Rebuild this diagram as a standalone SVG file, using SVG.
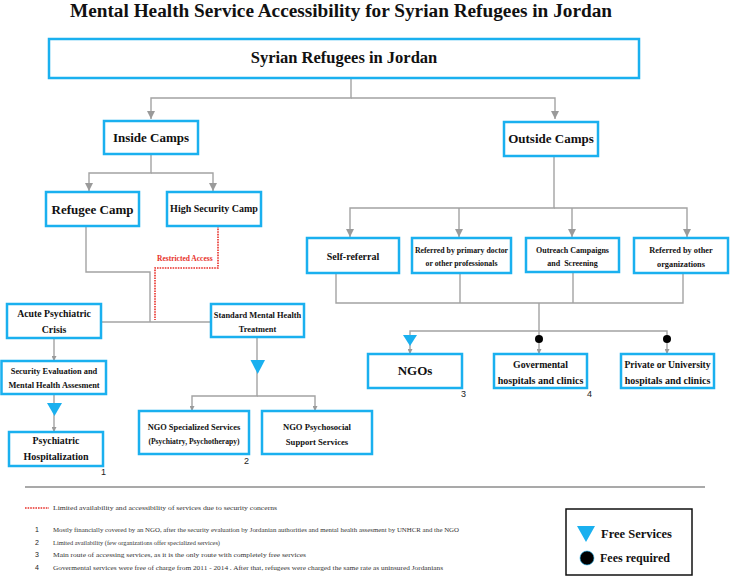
<svg xmlns="http://www.w3.org/2000/svg" width="730" height="577" viewBox="0 0 730 577">
<defs>
<style>
.box{fill:#fff;stroke:#1ab0ef;stroke-width:2.5}
.t{font-family:"Liberation Serif","Times New Roman",serif;font-weight:bold;fill:#111;text-anchor:middle}
.c{fill:none;stroke:#a3a3a3;stroke-width:1.4}
.red{fill:none;stroke:#e8302a;stroke-width:1.6;stroke-dasharray:1.6 1}
.num{font-family:"Liberation Sans",Arial,sans-serif;fill:#222}
.fn{font-family:"Liberation Serif","Times New Roman",serif;font-size:7px;fill:#333}
.tri{fill:#1ab0ef}
</style>
<marker id="a" markerUnits="userSpaceOnUse" markerWidth="8" markerHeight="10" refX="10" refY="5" viewBox="0 0 10 10" orient="auto">
<path d="M0,0 L10,5 L0,10 z" fill="#9a9a9a"/>
</marker>
<marker id="s" markerUnits="userSpaceOnUse" markerWidth="5" markerHeight="5" refX="10" refY="5" viewBox="0 0 10 10" orient="auto">
<path d="M0,0 L10,5 L0,10 z" fill="#9a9a9a"/>
</marker>
</defs>
<rect width="730" height="577" fill="#fff"/>
<text x="341" y="16.5" class="t" font-size="18" textLength="542" lengthAdjust="spacingAndGlyphs">Mental Health Service Accessibility for Syrian Refugees in Jordan</text>

<g id="connectors">
<path class="c" d="M351,78 V98 H151 V119" marker-end="url(#a)"/>
<path class="c" d="M351,98 H555 V119" marker-end="url(#a)"/>
<path class="c" d="M151,154 V173 H89 V191" marker-end="url(#a)"/>
<path class="c" d="M151,173 H213 V191" marker-end="url(#a)"/>
<path class="c" d="M554,156 V208 H350 V237" marker-end="url(#a)"/>
<path class="c" d="M554,208 H687 V237" marker-end="url(#a)"/>
<path class="c" d="M459,208 V237" marker-end="url(#a)"/>
<path class="c" d="M572,208 V237" marker-end="url(#a)"/>
<path class="c" d="M86,226 V272 H150 V322"/>
<path class="c" d="M102,322 H211"/>
<path class="red" d="M218,226 V268 H155 V320"/>
<path class="c" d="M54,338 V361" marker-end="url(#s)"/>
<path class="c" d="M54,394 V432" marker-end="url(#s)"/>
<polygon class="tri" points="47,403 62,403 54.5,416"/>
<path class="c" d="M257,337 V396 H192 V411" marker-end="url(#s)"/>
<path class="c" d="M257,396 H315 V411" marker-end="url(#s)"/>
<polygon class="tri" points="250.5,360 265,360 257.7,374"/>
<path class="c" d="M336,273 V303 H683 V273"/>
<path class="c" d="M460,273 V303"/>
<path class="c" d="M573,272 V303"/>
<path class="c" d="M539,303 V331 H410 V354" marker-end="url(#s)"/>
<path class="c" d="M539,331 H667 V354" marker-end="url(#s)"/>
<path class="c" d="M539,331 V354" marker-end="url(#s)"/>
<polygon class="tri" points="403,335 417,335 410,346"/>
<circle cx="539" cy="339" r="4" fill="#000"/>
<circle cx="667" cy="339" r="4" fill="#000"/>
</g>

<g id="syrian-refugees"><rect class="box" x="49" y="39" width="590" height="39"/><text class="t" x="344" y="63" font-size="16.5">Syrian Refugees in Jordan</text></g>
<g id="inside-camps"><rect class="box" x="104" y="121" width="94" height="33"/><text class="t" x="151" y="142" font-size="13">Inside Camps</text></g>
<g id="outside-camps"><rect class="box" x="504" y="122" width="94" height="34"/><text class="t" x="551" y="143" font-size="13">Outside Camps</text></g>
<g id="refugee-camp"><rect class="box" x="46" y="192" width="93" height="34"/><text class="t" x="92.5" y="214" font-size="13">Refugee Camp</text></g>
<g id="high-security-camp"><rect class="box" x="167" y="192" width="94" height="34"/><text class="t" x="214" y="212" font-size="10">High Security Camp</text></g>
<text x="157" y="261" font-family="Liberation Serif,Times New Roman,serif" font-weight="bold" font-size="7.5" fill="#e8302a">Restricted Access</text>
<g id="self-referral"><rect class="box" x="307" y="238" width="92" height="35"/><text class="t" x="353" y="260" font-size="10">Self-referral</text></g>
<g id="referred-primary"><rect class="box" x="412" y="238" width="99" height="35"/><text class="t" x="461.5" y="253" font-size="7.8">Referred by primary doctor</text><text class="t" x="461.5" y="266" font-size="7.8">or other professionals</text></g>
<g id="outreach"><rect class="box" x="526" y="238" width="93" height="34"/><text class="t" x="572.5" y="253" font-size="8">Outreach Campaigns</text><text class="t" x="572.5" y="266" font-size="8" xml:space="preserve">and  Screening</text></g>
<g id="referred-other"><rect class="box" x="634" y="238" width="94" height="35"/><text class="t" x="681" y="253" font-size="8.3">Referred by other</text><text class="t" x="681" y="267" font-size="8.3">organizations</text></g>
<g id="acute-crisis"><rect class="box" x="7" y="304" width="94" height="34"/><text class="t" x="54" y="317" font-size="9.8">Acute Psychiatric</text><text class="t" x="54" y="333" font-size="9.8">Crisis</text></g>
<g id="standard-treatment"><rect class="box" x="211" y="304" width="93" height="33"/><text class="t" x="257.5" y="318" font-size="8.4">Standard Mental Health</text><text class="t" x="257.5" y="332" font-size="8.4">Treatment</text></g>
<g id="security-evaluation"><rect class="box" x="1.5" y="361" width="104.5" height="33"/><text class="t" x="54" y="374" font-size="8.4">Security Evaluation and</text><text class="t" x="54" y="388" font-size="8.4">Mental Health Assesment</text></g>
<g id="psychiatric-hospitalization"><rect class="box" x="9" y="432" width="94" height="34"/><text class="t" x="56" y="444" font-size="9.8">Psychiatric</text><text class="t" x="56" y="460" font-size="10">Hospitalization</text><text class="num" x="101" y="475" font-size="9">1</text></g>
<g id="ngo-specialized"><rect class="box" x="139" y="411" width="110" height="43"/><text class="t" x="194" y="430" font-size="8.4">NGO Specialized Services</text><text class="t" x="194" y="444" font-size="7.6">(Psychiatry, Psychotherapy)</text><text class="num" x="244" y="464" font-size="9">2</text></g>
<g id="ngo-psychosocial"><rect class="box" x="262" y="411" width="110" height="43"/><text class="t" x="317" y="430" font-size="8.6">NGO Psychosocial</text><text class="t" x="317" y="445" font-size="8.6">Support Services</text></g>
<g id="ngos"><rect class="box" x="368" y="354" width="94" height="34"/><text class="t" x="415" y="375" font-size="13">NGOs</text><text class="num" x="461" y="397" font-size="9">3</text></g>
<g id="governmental"><rect class="box" x="494" y="354" width="93" height="34"/><text class="t" x="540.5" y="368" font-size="9.8">Govermental</text><text class="t" x="540.5" y="384" font-size="10">hospitals and clinics</text><text class="num" x="587" y="397" font-size="9">4</text></g>
<g id="private"><rect class="box" x="621" y="354" width="93" height="34"/><text class="t" x="667.5" y="368" font-size="9.6">Private or University</text><text class="t" x="667.5" y="384" font-size="10">hospitals and clinics</text></g>

<g id="footer">
<line x1="25" y1="487" x2="705" y2="487" stroke="#8c8c8c" stroke-width="1.6"/>
<line x1="25" y1="508" x2="49" y2="508" class="red"/>
<text class="fn" x="53" y="510" textLength="224" lengthAdjust="spacingAndGlyphs">Limited availability and accessibility of services due to security concerns</text>
<text class="num" x="35" y="532" font-size="7">1</text>
<text class="fn" x="53" y="532" textLength="406" lengthAdjust="spacingAndGlyphs">Mostly financially covered by an NGO, after the security evaluation by Jordanian authorities and mental health assesment by UNHCR and the NGO</text>
<text class="num" x="35" y="545" font-size="7">2</text>
<text class="fn" x="53" y="545" textLength="167" lengthAdjust="spacingAndGlyphs">Limited availability (few organizations offer specialized services)</text>
<text class="num" x="35" y="557" font-size="7">3</text>
<text class="fn" x="53" y="557" textLength="253" lengthAdjust="spacingAndGlyphs">Main route of accessing services, as it is the only route with completely free services</text>
<text class="num" x="35" y="570" font-size="7">4</text>
<text class="fn" x="53" y="570" textLength="390" lengthAdjust="spacingAndGlyphs">Govermental services were free of charge from 2011 - 2014 . After that, refugees were charged the same rate as uninsured Jordanians</text>
</g>

<g id="legend">
<rect x="566" y="509" width="126" height="66" fill="#fff" stroke="#111" stroke-width="1.5"/>
<polygon class="tri" points="577,526 595,526 586,542"/>
<text x="601" y="538" font-family="Liberation Serif,Times New Roman,serif" font-weight="bold" font-size="12.5" fill="#111">Free Services</text>
<circle cx="587" cy="558" r="7" fill="#000" stroke="#1ab0ef" stroke-width="0.6"/>
<text x="600" y="562" font-family="Liberation Serif,Times New Roman,serif" font-weight="bold" font-size="12" fill="#111">Fees required</text>
</g>
</svg>
